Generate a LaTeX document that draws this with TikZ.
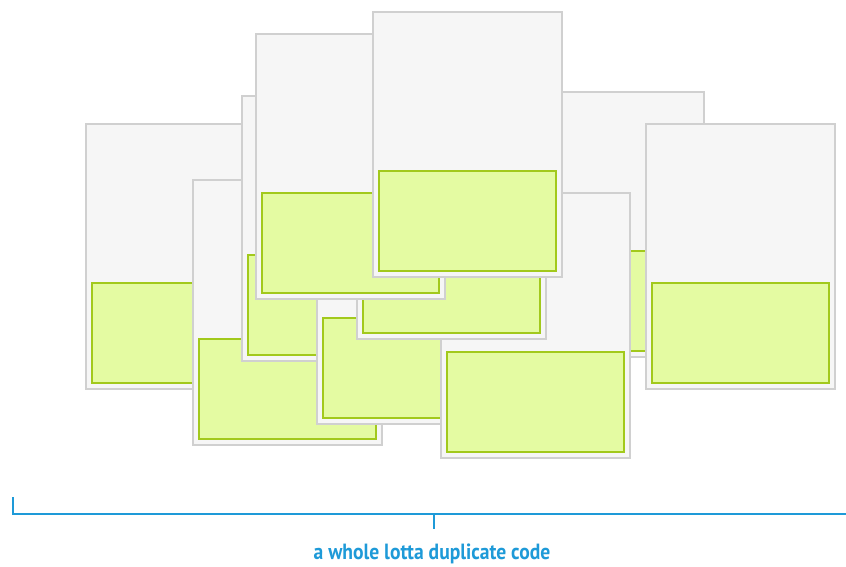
\documentclass[tikz,border=0pt]{standalone}
\usepackage{fontspec}
\newfontfamily\labelfont{PT Sans}
\usetikzlibrary{calc}
\definecolor{cardfill}{HTML}{F6F6F6}
\definecolor{carddraw}{HTML}{D0D0D0}
\definecolor{codefill}{HTML}{E4FBA2}
\definecolor{codedraw}{HTML}{A2C91C}
\definecolor{bracketblue}{HTML}{1E9AD8}
\tikzset{
  card/.style={draw=carddraw, fill=cardfill, line width=2pt, minimum width=189pt, minimum height=265pt, inner sep=0pt, outer sep=0pt, anchor=north west},
  codebox/.style={draw=codedraw, fill=codefill, line width=2.4pt, minimum width=177pt, minimum height=100pt, inner sep=0pt, outer sep=0pt, anchor=south},
  bracket/.style={draw=bracketblue, line width=2.4pt},
  caption/.style={text=bracketblue, font=\labelfont\bfseries\fontsize{22}{26}\selectfont, inner sep=0pt, xscale=0.89, transform shape}
}
\newcommand{\codecard}[3]{%
  \node[card] (#1) at (#2,#3) {};
  \node[codebox] (#1code) at ([yshift=6pt]#1.south) {};
}
\begin{document}
\begin{tikzpicture}[x=1pt,y=-1pt]
\useasboundingbox (0,0) rectangle (846,566);
\fill[white] (0,0) rectangle (846,566);
\codecard{cardG}{515}{92}
\codecard{cardA}{86}{124}
\codecard{cardB}{193}{180}
\codecard{cardC}{242}{96}
\codecard{cardJ}{317}{159}
\codecard{cardH}{441}{193}
\codecard{cardI}{357}{74}
\codecard{cardD}{256}{34}
\codecard{cardE}{373}{12}
\codecard{cardF}{646}{124}
\coordinate (bl) at (13,497);
\coordinate (blc) at (13,514);
\coordinate (br) at (846,514);
\coordinate (mtop) at (434,514);
\coordinate (mbot) at (434,529);
\draw[bracket] (bl) -- (blc) -- (br);
\draw[bracket] (mtop) -- (mbot);
\node[caption, anchor=base] (cap) at (432,559) {a whole lotta duplicate code};
\end{tikzpicture}
\end{document}
